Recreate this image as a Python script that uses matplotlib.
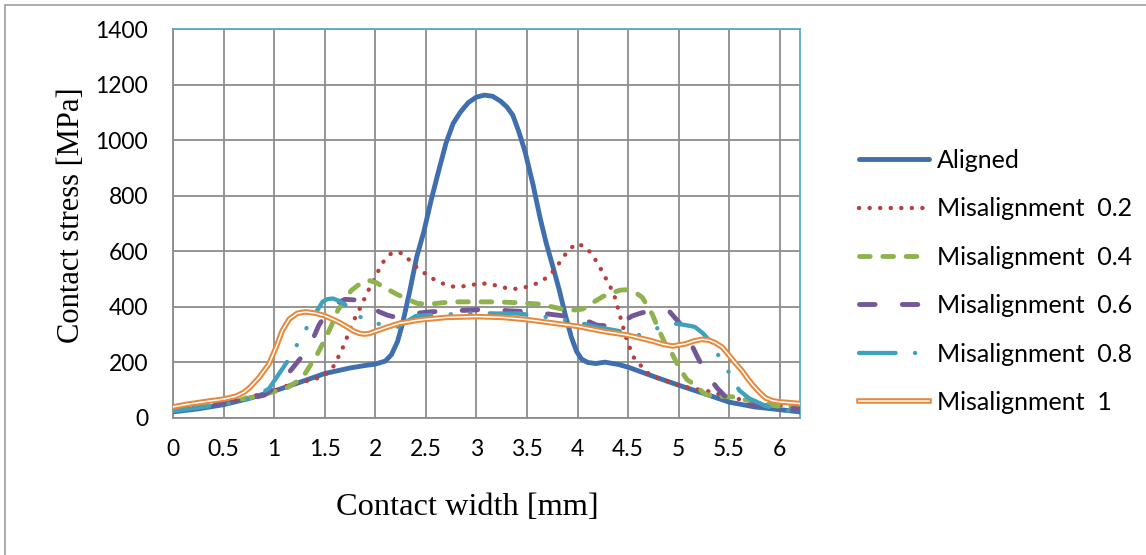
import matplotlib
matplotlib.use("Agg")
import matplotlib.pyplot as plt
import matplotlib.patheffects as pe
from matplotlib.patches import Rectangle

# ---------------- data ----------------
x_aligned = [0, 0.25, 0.5, 0.75, 1.0, 1.25, 1.5, 1.75, 1.9, 2.0, 2.1, 2.16, 2.22, 2.27, 2.34, 2.41,
             2.48, 2.55, 2.62, 2.70, 2.77, 2.84, 2.92, 3.0, 3.08, 3.16, 3.24, 3.3, 3.36, 3.42, 3.48,
             3.56, 3.63, 3.69, 3.76, 3.82, 3.88, 3.94, 3.99, 4.04, 4.1, 4.18, 4.27, 4.4, 4.5, 4.75,
             5.0, 5.25, 5.5, 5.75, 6.0, 6.2]
y_aligned = [22, 33, 48, 70, 97, 128, 160, 180, 189, 194, 205, 228, 275, 340, 455, 580,
             670, 780, 880, 990, 1060, 1100, 1135, 1155, 1162, 1158, 1140, 1120, 1090, 1030, 960,
             840, 720, 630, 540, 460, 370, 290, 240, 212, 200, 196, 201, 193, 183, 150,
             118, 88, 57, 40, 30, 22]

x_mis02 = [0, 0.25, 0.5, 0.75, 1.0, 1.16, 1.28, 1.38, 1.48, 1.57, 1.62, 1.67, 1.71, 1.75, 1.79, 1.84,
           1.93, 2.03, 2.08, 2.15, 2.22, 2.28, 2.33, 2.41, 2.50, 2.58, 2.68, 2.78, 2.90, 3.0, 3.10,
           3.22, 3.32, 3.42, 3.53, 3.63, 3.72, 3.79, 3.85, 3.91, 3.99, 4.08, 4.15, 4.21, 4.26, 4.31,
           4.36, 4.40, 4.44, 4.48, 4.52, 4.56, 4.63, 4.71, 4.80, 4.91, 5.01, 5.11, 5.22, 5.33, 5.43,
           5.54, 5.66, 5.76, 5.86, 6.0, 6.2]
y_mis02 = [30, 42, 55, 75, 97, 121, 130, 138, 149, 175, 209, 245, 281, 317, 353, 388,
           458, 529, 562, 590, 598, 590, 571, 542, 518, 499, 482, 472, 475, 482, 484,
           475, 465, 465, 475, 489, 512, 542, 574, 604, 628, 616, 585, 550, 516, 482,
           446, 395, 340, 290, 250, 215, 187, 157, 142, 130, 118, 108, 101, 94, 82,
           72, 63, 54, 51, 45, 40]

x_mis04 = [0, 0.25, 0.5, 0.75, 0.9, 1.0, 1.1, 1.2, 1.28, 1.35, 1.42, 1.5, 1.57, 1.63, 1.70, 1.76,
           1.83, 1.93, 2.01, 2.11, 2.21, 2.32, 2.42, 2.54, 2.67, 2.80, 3.0, 3.2, 3.4, 3.5, 3.62,
           3.75, 3.85, 3.95, 4.05, 4.15, 4.25, 4.33, 4.42, 4.5, 4.58, 4.64, 4.69, 4.74, 4.80, 4.87,
           4.93, 5.0, 5.08, 5.18, 5.25, 5.33, 5.45, 5.55, 5.65, 5.75, 5.85, 6.0, 6.2]
y_mis04 = [30, 42, 55, 72, 85, 95, 103, 125, 145, 185, 225, 281, 335, 388, 424, 458,
           478, 496, 487, 466, 446, 427, 412, 410, 415, 418, 418, 418, 415, 413, 410,
           400, 392, 388, 392, 415, 437, 449, 460, 462, 450, 434, 404, 373, 320, 265,
           235, 185, 139, 114, 88, 78, 77, 76, 66, 60, 50, 42, 38]

x_mis06 = [0, 0.25, 0.5, 0.75, 0.9, 1.0, 1.05, 1.15, 1.27, 1.37, 1.44, 1.52, 1.6, 1.7, 1.8, 1.88,
           1.96, 2.04, 2.12, 2.21, 2.3, 2.39, 2.54, 2.75, 2.93, 3.13, 3.31, 3.49, 3.67, 3.85, 4.03,
           4.19, 4.37, 4.54, 4.63, 4.72, 4.82, 4.91, 5.02, 5.11, 5.19, 5.28, 5.38, 5.48, 5.58, 5.68,
           5.82, 5.97, 6.2]
y_mis06 = [28, 42, 55, 70, 82, 108, 130, 165, 219, 273, 332, 380, 410, 427, 425, 419,
           400, 382, 370, 362, 368, 376, 382, 386, 388, 392, 386, 383, 376, 368, 360,
           334, 330, 367, 378, 385, 390, 383, 337, 277, 217, 157, 108, 70, 58, 48,
           45, 40, 32]

x_mis08 = [0, 0.25, 0.5, 0.7, 0.85, 0.95, 1.05, 1.16, 1.27, 1.38, 1.48, 1.53, 1.58, 1.64, 1.71, 1.81,
           1.9, 2.01, 2.11, 2.21, 2.30, 2.40, 2.60, 2.80, 3.0, 3.2, 3.41, 3.6, 3.79, 4.0, 4.19,
           4.35, 4.5, 4.6, 4.67, 4.74, 4.85, 4.96, 5.06, 5.16, 5.24, 5.31, 5.41, 5.51, 5.60, 5.70,
           5.85, 5.98, 6.2]
y_mis08 = [25, 37, 50, 62, 85, 106, 160, 219, 293, 360, 419, 428, 430, 422, 406, 374,
           352, 341, 332, 326, 345, 367, 372, 374, 378, 376, 376, 368, 358, 345, 327,
           317, 307, 298, 305, 316, 332, 340, 335, 328, 305, 277, 215, 157, 99, 70,
           45, 30, 22]

x_mis1 = [0, 0.15, 0.3, 0.5, 0.62, 0.7, 0.76, 0.85, 0.95, 1.02, 1.08, 1.15, 1.23, 1.31, 1.41, 1.5,
          1.58, 1.65, 1.72, 1.78, 1.84, 1.89, 1.94, 1.99, 2.05, 2.11, 2.24, 2.44, 2.70, 3.0, 3.26,
          3.5, 3.75, 4.0, 4.25, 4.5, 4.74, 4.85, 4.94, 5.07, 5.15, 5.23, 5.30, 5.36, 5.43, 5.49,
          5.56, 5.63, 5.68, 5.73, 5.80, 5.86, 5.93, 6.0, 6.2]
y_mis1 = [40, 50, 58, 68, 78, 92, 110, 145, 195, 255, 314, 356, 377, 382, 377, 368,
          355, 343, 328, 314, 305, 302, 304, 311, 318, 326, 341, 353, 362, 365, 362,
          354, 342, 330, 312, 298, 277, 265, 259, 267, 277, 283, 280, 271, 255, 229,
          198, 169, 143, 120, 92, 72, 62, 58, 52]

labels = ["Aligned", "Misalignment  0.2", "Misalignment  0.4",
          "Misalignment  0.6", "Misalignment  0.8", "Misalignment  1"]
x_ticks = [0, 0.5, 1, 1.5, 2, 2.5, 3, 3.5, 4, 4.5, 5, 5.5, 6]
x_ticklabels = ["0", "0.5", "1", "1.5", "2", "2.5", "3", "3.5", "4", "4.5", "5", "5.5", "6"]
y_ticks = [0, 200, 400, 600, 800, 1000, 1200, 1400]

# ---------------- figure ----------------
W, H = 1146, 555
fig = plt.figure(figsize=(W / 100, H / 100), dpi=100)
fig.patches.append(Rectangle((5 / W, -0.1), 1.2, 1 - 5 / H + 0.1, transform=fig.transFigure,
                             fill=False, edgecolor="#a0a0a0", linewidth=1.2))

ax = fig.add_axes([173 / W, 1 - 418 / H, (800 - 173) / W, (418 - 29) / H])
ax.set_xlim(0, 6.2)
ax.set_ylim(0, 1400)

grid_c = "#8c8c8c"
for xv in x_ticks:
    ax.axvline(xv, color=grid_c, lw=1.3, zorder=1)
for yv in y_ticks:
    ax.axhline(yv, color=grid_c, lw=1.3, zorder=1)

for s in ["left", "bottom"]:
    ax.spines[s].set_color(grid_c)
    ax.spines[s].set_linewidth(1.3)
for s in ["top", "right"]:
    ax.spines[s].set_color("#5aaac4")
    ax.spines[s].set_linewidth(1.3)

blue = "#3f6fae"
red = "#b5403d"
green = "#8db24e"
purple = "#735797"
cyan = "#3ea1bd"
orange = "#e8883a"

l1, = ax.plot(x_aligned, y_aligned, color=blue, lw=3.5, solid_capstyle="round", zorder=3)
l2, = ax.plot(x_mis02, y_mis02, color=red, lw=3.1, dash_capstyle="round",
              dashes=(0.05, 2.4), zorder=3)
l3, = ax.plot(x_mis04, y_mis04, color=green, lw=3.5, dash_capstyle="round",
              dashes=(2.2, 2.6), zorder=3)
l4, = ax.plot(x_mis06, y_mis06, color=purple, lw=3.5, dash_capstyle="round",
              dashes=(3.2, 5.6), zorder=3)
l5, = ax.plot(x_mis08, y_mis08, color=cyan, lw=3.1, dash_capstyle="round",
              dashes=(8.5, 4.5, 0.05, 4.5, 0.05, 4.5), zorder=3)
l6, = ax.plot(x_mis1, y_mis1, color="white", lw=1.1, zorder=4,
              path_effects=[pe.Stroke(linewidth=4.0, foreground=orange), pe.Normal()])

ax.set_xticks(x_ticks)
ax.set_xticklabels(x_ticklabels)
ax.set_yticks(y_ticks)
ax.tick_params(axis="both", length=0, labelsize=16.5)
ax.tick_params(axis="y", pad=18)
ax.tick_params(axis="x", pad=15)
for t in ax.get_xticklabels() + ax.get_yticklabels():
    t.set_fontfamily("Lato")

ax.set_xlabel("Contact width [mm]", family="Liberation Serif", fontsize=23.3, labelpad=24)
ax.set_ylabel("Contact stress [MPa]", family="Liberation Serif", fontsize=22, labelpad=6.5)
ax.xaxis.label.set_x((467 - 173) / 627)
ax.yaxis.label.set_y((418 - 215) / 389)

leg = fig.legend([l1, l2, l3, l4, l5, l6], labels, loc="upper left",
                 bbox_to_anchor=(859 / W, 1 - 149 / H), frameon=False,
                 prop={"family": "Lato", "size": 18}, handlelength=2.8,
                 handletextpad=0.32, labelspacing=1.016, borderpad=0, borderaxespad=0)

fig.savefig("out.png", dpi=100)
